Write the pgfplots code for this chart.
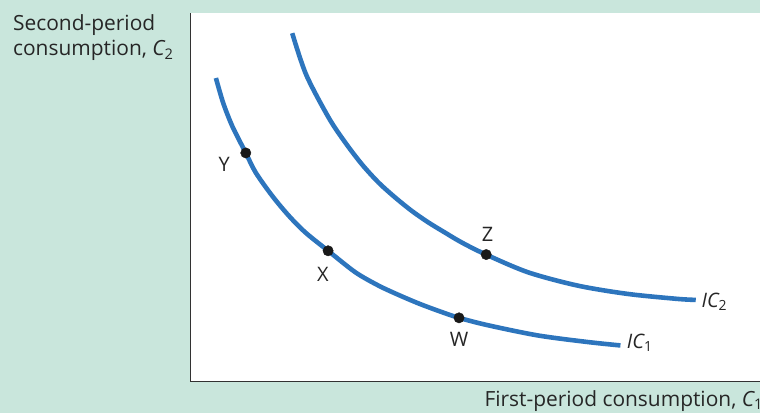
\documentclass[border=0pt]{standalone}
\usepackage{pgfplots}
\pgfplotsset{compat=1.18}
\usepackage{fontspec}
\setmainfont{Open Sans}
\definecolor{bgmint}{RGB}{201,230,220}
\definecolor{icblue}{RGB}{45,117,189}
\definecolor{axgray}{RGB}{50,50,50}
\newcommand{\lab}{\fontsize{20}{24}\selectfont}
\begin{document}
\begin{tikzpicture}[x=1pt,y=1pt]
% mint panel behind everything
\fill[bgmint] (0,0) rectangle (763,415);
\begin{axis}[
    at={(191pt,32pt)}, anchor=origin,
    scale only axis,
    width=572pt, height=370pt,
    xmin=191, xmax=763, ymin=32, ymax=402,
    axis x line=bottom, axis y line=left,
    axis line style={-, axgray, line width=1.4pt},
    axis background/.style={fill=white},
    xtick=\empty, ytick=\empty,
    clip=false,
]
% IC1
\addplot[icblue, line width=4.6pt, smooth, tension=0.5] coordinates {
    (216.7,336.7) (224,311.7) (233.3,288) (246.7,261.5) (256.7,241.7)
    (273.3,218.3) (290,198.3) (306.7,181.5) (329.3,163.3) (356.7,141.7)
    (380,128.3) (400,119) (420,110.5) (440,103) (460.7,96)
    (490,88.5) (540,78.3) (590,71.7) (622.7,68.3)
};
% IC2
\addplot[icblue, line width=4.6pt, smooth, tension=0.5] coordinates {
    (293.3,381.7) (307.3,340) (330,296.7) (346.7,271.7) (363.3,250)
    (380,231.7) (396.7,216.7) (413.3,203.3) (430,191.7) (446.7,181.5)
    (463.3,171.7) (486.7,160) (530,141.7) (580,128.3) (630,120)
    (680,115) (698.3,114)
};
% bundles
\addplot[only marks, mark=*, mark size=5.2pt, black!90] coordinates {
    (246.7,261.5) (329.3,163.3) (460.7,96) (488,159.5)
};
\node[font=\lab, text=black!85] at (axis cs:225,250.5) {Y};
\node[font=\lab, text=black!85] at (axis cs:324,140) {X};
\node[font=\lab, text=black!85] at (axis cs:460.7,74.3) {W};
\node[font=\lab, text=black!85] at (axis cs:489.3,179.3) {Z};
\node[font=\lab, text=black!85, anchor=base west, inner sep=0pt] at (axis cs:629,65) {\itshape IC\textsubscript{\upshape 1}};
\node[font=\lab, text=black!85, anchor=base west, inner sep=0pt] at (axis cs:704,106) {\itshape IC\textsubscript{\upshape 2}};
\end{axis}
\begin{scope}[every node/.style={inner sep=0pt, font=\fontsize{21}{25}\selectfont, text=black!85}]
\node[anchor=base west] at (13,384) {Second-period};
\node[anchor=base west] at (13,359) {consumption, {\itshape C}\textsubscript{2}};
\node[anchor=base east] at (766,7) {First-period consumption, {\itshape C}\textsubscript{1}};
\end{scope}
\end{tikzpicture}
\end{document}
